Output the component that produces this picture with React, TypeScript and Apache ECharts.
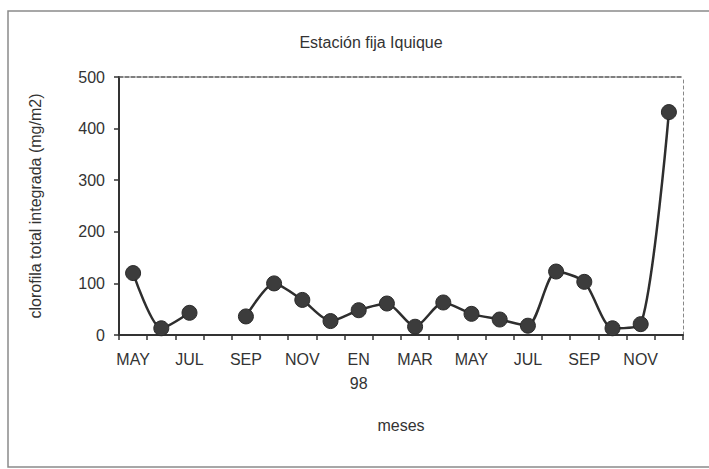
import React, { useEffect, useRef } from "react";
import * as echarts from "echarts";

const months = ["MAY", "JUN", "JUL", "AGO", "SEP", "OCT", "NOV", "DIC", "EN\n98", "FEB", "MAR", "ABR", "MAY", "JUN", "JUL", "AGO", "SEP", "OCT", "NOV", "DIC"];
const clorofila: (number | null)[] = [120, 13, 43, null, 36, 100, 68, 27, 48, 61, 16, 63, 41, 30, 18, 123, 103, 13, 21, 432];
const yTicks = { min: 0, max: 500, interval: 100 };

const FONT = "'Liberation Sans', Arial, sans-serif";
const TEXT = "#333";

export default function App() {
  const ref = useRef<HTMLDivElement>(null);
  useEffect(() => {
    if (!ref.current) return;
    const chart = echarts.init(ref.current, undefined, { renderer: "svg" });
    chart.setOption({
      animation: false,
      backgroundColor: "#fff",
      textStyle: { fontFamily: FONT },
      title: {
        text: "Estación fija Iquique",
        left: 366,
        top: 29,
        textAlign: "center",
        textStyle: { fontFamily: FONT, fontSize: 16, fontWeight: "normal", color: TEXT },
      },
      graphic: [
        {
          type: "rect",
          shape: { x: 8, y: 11, width: 720, height: 456 },
          style: { fill: "none", stroke: "#8a8a8a", lineWidth: 1.5 },
          silent: true,
        },
      ],
      grid: { left: 119, right: 26, top: 77, bottom: 134, containLabel: false },
      xAxis: [
        {
          type: "category",
          data: months,
          boundaryGap: true,
          name: "meses",
          nameLocation: "middle",
          nameGap: 82,
          nameTextStyle: { fontFamily: FONT, fontSize: 16, color: TEXT },
          axisLine: { onZero: false, lineStyle: { color: "#333", width: 2 } },
          axisTick: { show: true, interval: 0, length: 5, lineStyle: { color: "#333", width: 1.5 } },
          axisLabel: {
            interval: 1,
            margin: 12,
            fontFamily: FONT,
            fontSize: 16,
            color: TEXT,
            lineHeight: 24,
          },
          splitLine: { show: false },
        },
        {
          type: "category",
          data: months,
          position: "top",
          axisLine: { onZero: false, lineStyle: { color: "#555", width: 1.5, type: [4, 2] } },
          axisTick: { show: false },
          axisLabel: { show: false },
          splitLine: { show: false },
        },
      ],
      yAxis: [
        {
          type: "value",
          min: yTicks.min,
          max: yTicks.max,
          interval: yTicks.interval,
          name: "clorofila total integrada (mg/m2)",
          nameLocation: "middle",
          nameGap: 76,
          nameTextStyle: { fontFamily: FONT, fontSize: 16, color: TEXT },
          axisLine: { show: true, onZero: false, lineStyle: { color: "#333", width: 2 } },
          axisTick: { show: true, length: 5, lineStyle: { color: "#333", width: 1.5 } },
          axisLabel: { margin: 14, fontFamily: FONT, fontSize: 16, color: TEXT },
          splitLine: { show: false },
        },
        {
          type: "value",
          min: yTicks.min,
          max: yTicks.max,
          interval: yTicks.interval,
          position: "right",
          axisLine: { show: true, onZero: false, lineStyle: { color: "#888", width: 1, type: [3, 3] } },
          axisTick: { show: false },
          axisLabel: { show: false },
          splitLine: { show: false },
        },
      ],
      series: [
        {
          type: "line",
          data: clorofila,
          connectNulls: false,
          smooth: 0.25,
          symbol: "circle",
          symbolSize: 15,
          lineStyle: { color: "#2e2e2e", width: 2.5 },
          itemStyle: { color: "#3c3c3c", borderColor: "#2a2a2a", borderWidth: 1 },
        },
      ],
    });
    return () => chart.dispose();
  }, []);
  return <div ref={ref} style={{ width: 709, height: 469, position: "absolute", left: 0, top: 0 }} />;
}
